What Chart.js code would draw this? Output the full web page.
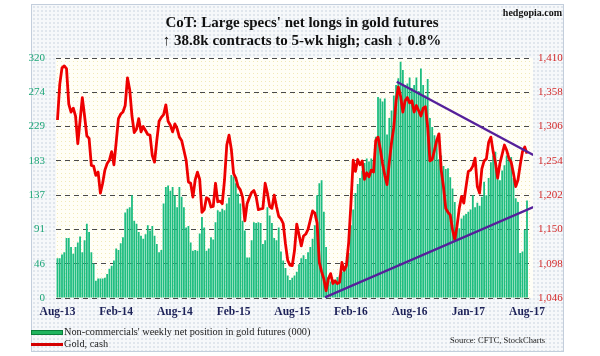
<!DOCTYPE html>
<html><head><meta charset="utf-8">
<script src="https://cdn.jsdelivr.net/npm/chart.js@4.4.1/dist/chart.umd.min.js"></script>
<style>
html,body{margin:0;padding:0;background:#fff;}
#wrap{position:relative;width:600px;height:356px;overflow:hidden;font-family:"Liberation Serif","Times New Roman",serif;}
#frame{position:absolute;left:31px;top:4px;width:533px;height:348px;border:1px solid #c3cedc;box-sizing:border-box;
 background:radial-gradient(circle,#dfe5ec 0.7px,transparent 1.1px) 0 0/4px 4px,#f6f8fa;}
#c{position:absolute;left:0;top:0;}
.t{position:absolute;white-space:nowrap;color:#111;}
#title{left:0;width:604px;text-align:center;top:13px;font-weight:bold;font-size:15px;line-height:18px;}
#brand{right:38px;top:7px;font-weight:bold;font-size:10px;}
#sw1{position:absolute;left:31px;top:330px;width:32px;height:5px;background:#1fb45e;border:1px solid #0a7f3a;box-sizing:border-box;}
#sw2{position:absolute;left:31px;top:343px;width:32px;height:3px;background:#d40000;}
#l1{left:64px;top:326px;font-size:10.3px;color:#222;}
#l2{left:64px;top:338px;font-size:10.3px;color:#222;}
#src{left:450px;top:335px;font-size:8.5px;color:#222;}
</style></head>
<body>
<div id="wrap">
 <div id="frame"></div>
 <canvas id="c" width="600" height="356"></canvas>
 <div class="t" id="title">CoT: Large specs' net longs in gold futures<br>↑ 38.8k contracts to 5-wk high; cash ↓ 0.8%</div>
 <div class="t" id="brand">hedgopia.com</div>
 <div id="sw1"></div><div class="t" id="l1">Non-commercials' weekly net position in gold futures (000)</div>
 <div id="sw2"></div><div class="t" id="l2">Gold, cash</div>
 <div class="t" id="src">Source: CFTC, StockCharts</div>
</div>
<script>
// Weekly net position (000 contracts), Aug-13 .. Aug-17
const netLongs = [
 53,53,58,61,80,80,68,59,68,74,
 82,61,77,99,88,61,46,23,26,26,
 26,27,32,39,43,50,66,64,73,81,
 114,119,121,137,103,99,88,83,79,85,
 97,90,96,83,72,61,64,126,148,150,
 143,148,137,121,148,135,121,94,96,74,
 63,64,63,86,108,94,63,66,81,78,
 101,117,115,119,117,126,134,164,162,153,
 139,126,103,90,54,54,77,101,100,101,
 100,72,77,121,110,100,80,77,94,62,
 50,40,30,24,27,30,35,45,53,57,
 52,61,68,79,97,137,153,157,115,68,
 28,22,25,20,28,30,35,38,42,60,
 97,118,140,152,160,170,180,186,182,186,
 184,215,268,266,262,266,218,240,250,270,
 284,293,315,304,284,286,294,280,284,294,
 276,306,284,270,292,240,228,217,212,185,
 190,176,172,173,161,146,128,97,93,106,
 110,112,115,118,137,121,127,123,135,155,
 137,160,181,190,195,164,157,170,177,190,
 183,188,160,133,128,60,62,91,130
];
// Gold, cash ($/oz)
const gold = [
 1316,1370,1395,1398,1394,1340,1328,1334,1322,1280,
 1315,1350,1322,1292,1288,1247,1246,1232,1237,1205,
 1220,1240,1250,1255,1268,1248,1282,1318,1325,1328,
 1338,1380,1362,1322,1297,1302,1318,1298,1306,1300,
 1294,1293,1262,1252,1285,1314,1320,1324,1339,1314,
 1308,1298,1310,1303,1290,1285,1270,1255,1222,1220,
 1199,1225,1237,1226,1176,1180,1198,1196,1184,1185,
 1220,1192,1193,1189,1225,1278,1293,1272,1235,1228,
 1215,1210,1199,1163,1189,1198,1206,1209,1200,1180,
 1181,1182,1220,1205,1185,1182,1202,1185,1170,1166,
 1159,1128,1103,1096,1095,1118,1158,1142,1125,1140,
 1143,1150,1164,1178,1175,1160,1100,1086,1075,1057,
 1075,1083,1068,1072,1068,1070,1100,1088,1095,1130,
 1189,1255,1238,1256,1248,1254,1226,1236,1230,1240,
 1237,1285,1290,1272,1250,1232,1218,1252,1282,1305,
 1345,1366,1352,1328,1345,1350,1342,1345,1328,1338,
 1330,1322,1334,1336,1306,1254,1256,1270,1285,1295,
 1240,1215,1182,1176,1172,1150,1134,1155,1182,1200,
 1190,1215,1238,1240,1246,1258,1215,1205,1242,1254,
 1257,1282,1290,1268,1252,1228,1250,1264,1278,1270,
 1258,1252,1235,1215,1225,1248,1268,1275,1265
];
// Trend lines: [week index, gold price]
const upperTrend = [[150.3,1374],[210.8,1263]];
const lowerTrend = [[118.5,1047],[210.8,1184]];
// Axis ticks
const xTickWeeks = [0,26,52,78,104,130,156,182,208];
const xTickLabels = ['Aug-13','Feb-14','Aug-14','Feb-15','Aug-15','Feb-16','Aug-16','Jan-17','Aug-17'];
const leftTickLabels = ['0','46','91','137','183','229','274','320'];
const rightTickLabels = ['1,046','1,098','1,150','1,202','1,254','1,306','1,358','1,410'];
const leftMax = 320, rightMin = 1046, rightMax = 1410;

function dotPattern(bg, dot){
  const p = document.createElement('canvas'); p.width = 4; p.height = 4;
  const g = p.getContext('2d'); g.fillStyle = bg; g.fillRect(0,0,4,4);
  g.fillStyle = dot; g.fillRect(1,1,1,1);
  return p;
}
const areaBg = {
  id:'areaBg',
  beforeDraw(chart){
    const {ctx, chartArea:a} = chart;
    ctx.save();
    ctx.fillStyle = ctx.createPattern(dotPattern('#fffef6','#f1e9b8'),'repeat');
    ctx.fillRect(a.left, a.top, a.right-a.left, a.bottom-a.top);
    ctx.restore();
  }
};
const serif = "'Liberation Serif','Times New Roman',serif";
const n = leftTickLabels.length - 1;

new Chart(document.getElementById('c'), {
  data: {
    datasets: [
      {type:'line', data: upperTrend.map(p=>({x:p[0],y:p[1]})), yAxisID:'y2', borderColor:'#55209a', borderWidth:2.4, pointRadius:0, order:0},
      {type:'line', data: lowerTrend.map(p=>({x:p[0],y:p[1]})), yAxisID:'y2', borderColor:'#55209a', borderWidth:2.4, pointRadius:0, order:0},
      {type:'line', label:'Gold, cash', data: gold.map((v,i)=>({x:i,y:v})), yAxisID:'y2', borderColor:'#ee0000', borderWidth:2.8, pointRadius:0, tension:0, borderJoinStyle:'round', order:1},
      {type:'bar', label:"Non-commercials' weekly net position in gold futures (000)", data: netLongs.map((v,i)=>({x:i,y:v})), yAxisID:'y', backgroundColor:'#1dbd80', barPercentage:0.8, categoryPercentage:1, order:2}
    ]
  },
  options: {
    responsive:false, animation:false, events:[],
    layout:{padding:{top:58, bottom:36, left:0, right:0}},
    plugins:{legend:{display:false}, tooltip:{enabled:false}},
    scales:{
      x:{type:'linear', min:-0.66, max:210.66, offset:false,
         grid:{display:false, drawTicks:false}, border:{display:false},
         afterBuildTicks:s=>{ s.ticks = xTickWeeks.map(v=>({value:v})); },
         afterFit:s=>{ s.height = 22; },
         ticks:{autoSkip:false, maxRotation:0, padding:7, color:'#1c2158',
                font:{family:serif, size:11.5, weight:'bold'},
                callback:v=>xTickLabels[xTickWeeks.indexOf(v)] }},
      y:{position:'left', min:0, max:leftMax, z:1,
         grid:{color:'#4a4a4a', lineWidth:1, drawTicks:false},
         border:{display:false, dash:[5,4]},
         afterBuildTicks:s=>{ s.ticks = leftTickLabels.map((_,k)=>({value:k*leftMax/n})); },
         afterFit:s=>{ s.width = 56; },
         ticks:{padding:11, color:'#1da678', font:{family:serif, size:11},
                callback:(v,k)=>leftTickLabels[k]}},
      y2:{position:'right', min:rightMin, max:rightMax,
         grid:{display:false, drawTicks:false}, border:{display:false},
         afterBuildTicks:s=>{ s.ticks = rightTickLabels.map((_,k)=>({value:rightMin+k*(rightMax-rightMin)/n})); },
         afterFit:s=>{ s.width = 67; },
         ticks:{padding:5, color:'#d42a2a', font:{family:serif, size:11},
                callback:(v,k)=>rightTickLabels[k]}}
    }
  },
  plugins:[areaBg]
});
</script>
</body></html>
